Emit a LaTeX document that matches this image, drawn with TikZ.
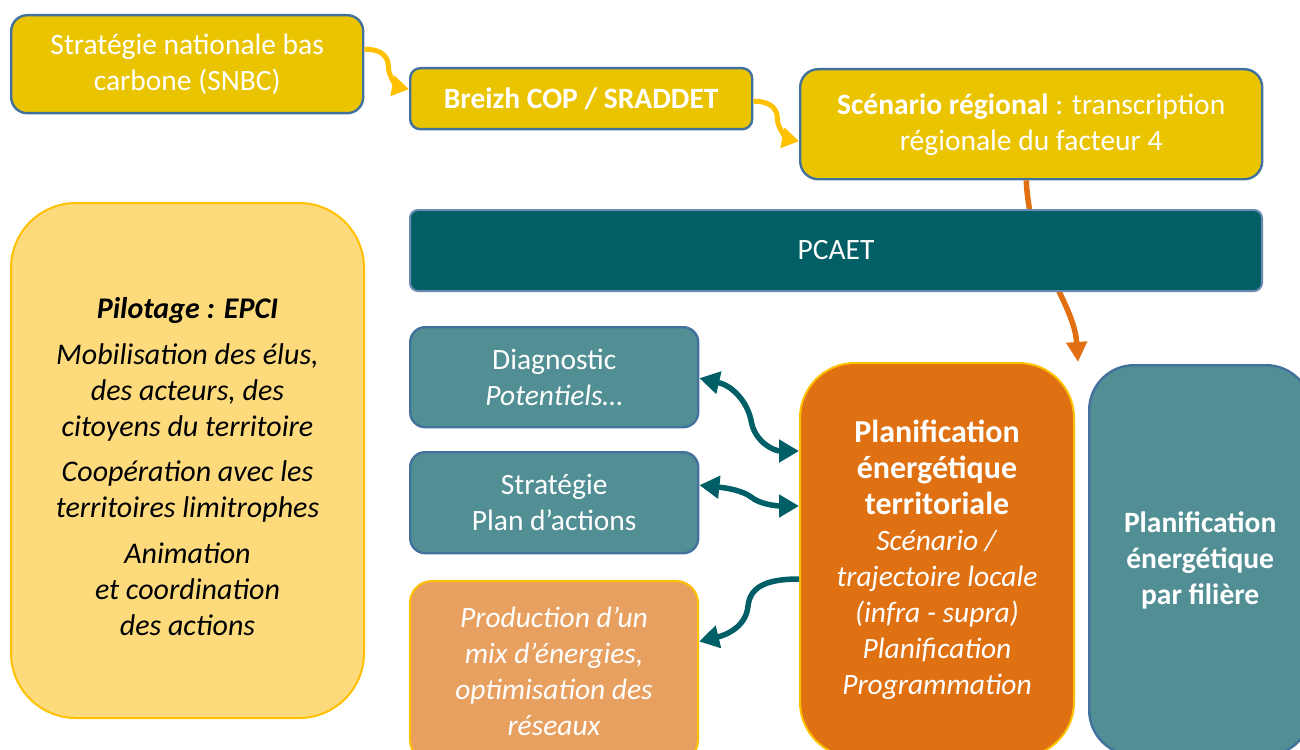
\documentclass[tikz,border=0pt]{standalone}
\usepackage{fontspec}
\setmainfont{Carlito}
\usetikzlibrary{arrows.meta,calc}

\definecolor{gold}{HTML}{EBC400}
\definecolor{goldline}{HTML}{FFC000}
\definecolor{bluegrey}{HTML}{41719C}
\definecolor{pcaetfill}{HTML}{025F66}
\definecolor{pcaetline}{HTML}{6A8BB0}
\definecolor{paleyellow}{HTML}{FDDB7D}
\definecolor{tealbox}{HTML}{528F95}
\definecolor{apricot}{HTML}{E8A060}
\definecolor{burnt}{HTML}{DF7112}
\definecolor{arrowteal}{HTML}{005F66}
\definecolor{arroworange}{HTML}{E07012}

\newcommand{\bigbold}[1]{{\fontsize{32}{38.5}\selectfont\bfseries #1}}

\tikzset{
  box/.style={draw, line width=2.4pt, align=center, inner sep=0pt,
    anchor=north west, text=white,
    font=\fontsize{29.5}{36}\selectfont},
  goldbox/.style={box, fill=gold, draw=bluegrey},
  tealnode/.style={box, fill=tealbox, draw=bluegrey},
  warmbox/.style={box, draw=goldline, line width=2pt},
  goldarrow/.style={draw=goldline, line width=5pt,
    -{Triangle[width=20pt,length=17pt]}},
  tealarrow/.style={draw=arrowteal, line width=5.5pt,
    {Triangle[width=22pt,length=20pt]}-{Triangle[width=22pt,length=20pt]}},
  tealone/.style={draw=arrowteal, line width=5.5pt,
    -{Triangle[width=22pt,length=20pt]}},
  orangearrow/.style={draw=arroworange, line width=5.5pt,
    -{Triangle[width=20pt,length=20pt]}},
}

\begin{document}
\begin{tikzpicture}[x=1pt,y=-1pt]
\useasboundingbox (0,0) rectangle (1300,749);

% top chain
\node[goldbox, rounded corners=16pt, minimum width=352pt, minimum height=98pt]
  (snbc) at (10,14) {Stratégie nationale bas\\carbone (SNBC)};
\node[goldbox, rounded corners=10pt, minimum width=342pt, minimum height=61pt]
  (breizh) at (409,67) {\textbf{Breizh COP / SRADDET}};
\node[goldbox, rounded corners=18pt, minimum width=462pt, minimum height=110pt]
  (scen) at (799,68) {\textbf{Scénario régional} : transcription\\régionale du facteur 4};

% planning boxes
\node[warmbox, fill=burnt, rounded corners=55pt, minimum width=274pt, minimum height=394pt]
  (planif) at (799,362) {\bigbold{Planification}\\ \bigbold{énergétique}\\ \bigbold{territoriale}\\
    \textit{Scénario /}\\ \textit{trajectoire locale}\\ \textit{(infra - supra)}\\
    \textit{Planification}\\ \textit{Programmation}};
\node[tealnode, rounded corners=45pt, minimum width=222pt, minimum height=390pt]
  (filiere) at (1088,364) {\textbf{Planification}\\ \textbf{énergétique}\\ \textbf{par filière}};

% regional scenario feeds the territorial planning, passing behind the PCAET band
\path[orangearrow] ([xshift=-5pt]scen.south)
  .. controls +(4,80) and +(-4,-60) .. ([xshift=3pt]planif.north east);

\node[box, fill=pcaetfill, draw=pcaetline, line width=2pt, rounded corners=8pt,
  minimum width=852pt, minimum height=81pt] (pcaet) at (409,209) {PCAET};

% steering box
\node[box, fill=paleyellow, draw=goldline, line width=2pt, rounded corners=65pt,
  text=black, minimum width=353pt, minimum height=515pt,
  font=\fontsize{30}{36}\selectfont\itshape] (pilot) at (10,202)
  {\rule{0pt}{34pt}\textbf{Pilotage : EPCI}\\[10pt]
   Mobilisation des élus,\\ des acteurs, des\\ citoyens du territoire\\[9pt]
   Coopération avec les\\ territoires limitrophes\\[10pt]
   Animation\\ et coordination\\ des actions};

% left column
\node[tealnode, rounded corners=15pt, minimum width=288pt, minimum height=100pt]
  (diag) at (409,326) {Diagnostic\\ \textit{Potentiels…}};
\node[tealnode, rounded corners=15pt, minimum width=288pt, minimum height=101pt]
  (strat) at (409,451) {Stratégie\\ Plan d’actions};
\node[warmbox, fill=apricot, rounded corners=22pt, minimum width=288pt, minimum height=181pt,
  font=\fontsize{29.5}{36}\selectfont\itshape]
  (prod) at (409,580) {Production d’un\\ mix d’énergies,\\ optimisation des\\ réseaux};

% gold connectors along the top chain
\path[goldarrow] ([yshift=15pt]snbc.east)
  .. controls +(18,0) and +(0,-10) .. ++(24,18)
  .. controls +(0,10) and +(-10,-2) .. ([yshift=9.5pt]breizh.west);
\path[goldarrow] ([yshift=-2.5pt]breizh.east)
  .. controls +(18,0) and +(0,-10) .. ++(24,18)
  .. controls +(0,10) and +(-10,-2) .. ([yshift=-17pt]scen.west);

% teal connectors between the planning box and the left column
\path[tealarrow] ([yshift=-1pt]diag.east)
  .. controls +(35,8) and +(-3,-18) .. ++(52,44)
  .. controls +(4,20) and +(-25,0) .. ([yshift=109pt]planif.west);
\path[tealarrow] ([yshift=17.5pt]strat.east)
  .. controls +(30,3) and +(-8,-6) .. ++(52,12)
  .. controls +(8,7) and +(-22,0) .. ([yshift=54pt]planif.west);
\path[tealone] ([yshift=-19pt]planif.west)
  .. controls +(-35,0) and +(2,-18) .. ++(-51,27)
  .. controls +(-2,22) and +(25,-6) .. ([yshift=30pt]prod.east);
\end{tikzpicture}
\end{document}
